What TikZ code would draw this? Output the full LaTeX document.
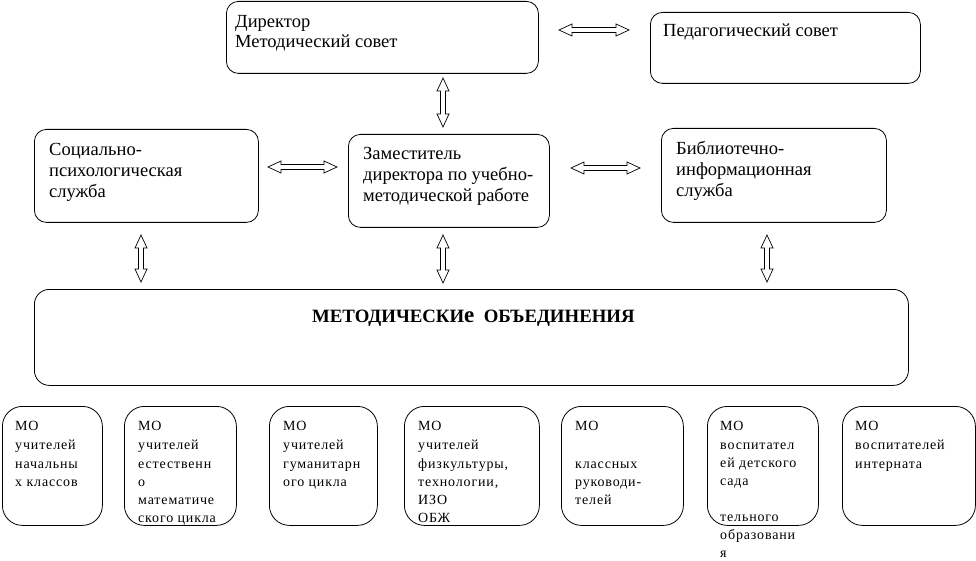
\documentclass[tikz,border=0pt]{standalone}
\usepackage{fontspec}
\setmainfont{Liberation Serif}
\newfontfamily\mofont[LetterSpace=6]{Liberation Serif}
\usetikzlibrary{calc}
\newcommand\boxtext[2]{\parbox[t]{280pt}{\baselineskip=#1\relax\lineskiplimit=-30pt\lineskip=0pt #2\par}}
\newcommand\hblockarrow[2]{\draw[arrowline] (#1) -- ($(#1)+(13,-6)$) -- ($(#1)+(13,-2.5)$) -- ($(#2)+(-13,-2.5)$) -- ($(#2)+(-13,-6)$) -- (#2) -- ($(#2)+(-13,6)$) -- ($(#2)+(-13,2.5)$) -- ($(#1)+(13,2.5)$) -- ($(#1)+(13,6)$) -- cycle;}
\newcommand\vblockarrow[2]{\draw[arrowline] (#1) -- ($(#1)+(6,13)$) -- ($(#1)+(2.5,13)$) -- ($(#2)+(2.5,-13)$) -- ($(#2)+(6,-13)$) -- (#2) -- ($(#2)+(-6,-13)$) -- ($(#2)+(-2.5,-13)$) -- ($(#1)+(-2.5,13)$) -- ($(#1)+(-6,13)$) -- cycle;}
\begin{document}
\begin{tikzpicture}[x=1pt,y=-1pt,
  frame/.style={draw, line width=0.8pt, anchor=north west, inner sep=0pt},
  topbox/.style={frame, rounded corners=12pt},
  bigbox/.style={frame, rounded corners=15pt},
  mobox/.style={frame, rounded corners=20pt},
  uptext/.style={anchor=base west, inner sep=0pt, font=\fontsize{18.5}{21}\selectfont},
  motext/.style={anchor=base west, inner sep=0pt, font=\mofont\fontsize{14}{18.2}\selectfont},
  arrowline/.style={draw, line width=0.7pt, line join=miter}]
\useasboundingbox (0,0) rectangle (976,561);
% boxes
\node[topbox, minimum width=312pt, minimum height=72pt] (dir) at (226,1) {};
\node[topbox, minimum width=270pt, minimum height=71pt] (ped) at (650,12) {};
\node[topbox, minimum width=224pt, minimum height=93pt] (soc) at (34,129) {};
\node[topbox, minimum width=201pt, minimum height=93pt] (dep) at (348,134) {};
\node[topbox, minimum width=225pt, minimum height=94pt] (lib) at (661,128) {};
\node[bigbox, minimum width=874pt, minimum height=96pt] (mo) at (34,289) {};
\node[mobox, minimum width=100pt, minimum height=119pt] (b1) at (2,406) {};
\node[mobox, minimum width=112pt, minimum height=119pt] (b2) at (124,406) {};
\node[mobox, minimum width=108pt, minimum height=119pt] (b3) at (269,406) {};
\node[mobox, minimum width=135pt, minimum height=119pt] (b4) at (404,406) {};
\node[mobox, minimum width=122pt, minimum height=119pt] (b5) at (561,406) {};
\node[mobox, minimum width=111pt, minimum height=119pt] (b6) at (707,406) {};
\node[mobox, minimum width=133pt, minimum height=119pt] (b7) at (842,406) {};
% texts
\node[uptext] (dirt) at (235,28) {\boxtext{20pt}{Директор\\Методический совет}};
\node[uptext] (pedt) at (663,37) {\boxtext{21pt}{Педагогический совет}};
\node[uptext] (soct) at (49,156) {\boxtext{21pt}{Социально-\\психологическая\\служба}};
\node[uptext] (dept) at (363,160) {\boxtext{21pt}{Заместитель\\директора по учебно-\\методической работе}};
\node[uptext] (libt) at (676,155) {\boxtext{21pt}{Библиотечно-\\информационная\\служба}};
\node[anchor=base west, inner sep=0pt] (mot) at (312,322) {\fontsize{18.8}{18.8}\selectfont\bfseries МЕТОДИЧЕСКИ{\fontsize{23}{23}\selectfont е}\ \ ОБЪЕДИНЕНИЯ};
\node[motext] (t1) at (15,430) {\boxtext{18.2pt}{МО\\[1.6pt]учителей\\начальны\\х классов}};
\node[motext] (t2) at (138,430) {\boxtext{18.2pt}{МО\\[1.6pt]учителей\\естественн\\о\\математиче\\ского цикла}};
\node[motext] (t3) at (283,430) {\boxtext{18.2pt}{МО\\[1.6pt]учителей\\гуманитарн\\ого цикла}};
\node[motext] (t4) at (418,430) {\boxtext{18.2pt}{МО\\[1.6pt]учителей\\физкультуры,\\технологии,\\ИЗО\\ОБЖ}};
\node[motext] (t5) at (575,430) {\boxtext{18.2pt}{МО\\[1.6pt]\mbox{}\\классных\\руководи-\\телей}};
\node[motext] (t6) at (720,430) {\boxtext{18pt}{МО\\[1.6pt]воспитател\\ей детского\\сада\\ \mbox{}\\тельного\\образовани\\я}};
\node[motext] (t7) at (855,430) {\boxtext{18.2pt}{МО\\[1.6pt]воспитателей\\интерната}};
% arrow ends
\coordinate (a1l) at (559,30);  \coordinate (a1r) at (629,30);
\coordinate (a2t) at (443,78);  \coordinate (a2b) at (443,127);
\coordinate (a3l) at (268,167); \coordinate (a3r) at (337,167);
\coordinate (a4l) at (571,168); \coordinate (a4r) at (640,168);
\coordinate (a5t) at (141,235); \coordinate (a5b) at (141,282);
\coordinate (a6t) at (443,235); \coordinate (a6b) at (443,283);
\coordinate (a7t) at (767,235); \coordinate (a7b) at (767,282);
\hblockarrow{a1l}{a1r}
\vblockarrow{a2t}{a2b}
\hblockarrow{a3l}{a3r}
\hblockarrow{a4l}{a4r}
\vblockarrow{a5t}{a5b}
\vblockarrow{a6t}{a6b}
\vblockarrow{a7t}{a7b}
\end{tikzpicture}
\end{document}
